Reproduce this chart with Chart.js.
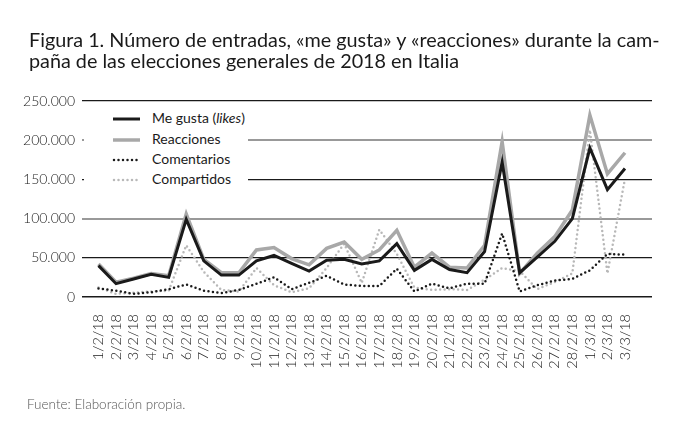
<!DOCTYPE html>
<html>
<head>
<meta charset="utf-8">
<script src="https://cdn.jsdelivr.net/npm/chart.js@4.4.0/dist/chart.umd.min.js"></script>
<style>
  body { margin: 0; background: #fff; font-family: Lato, sans-serif; }
  #page { position: relative; width: 691px; height: 430px; overflow: hidden; }
  #chart { position: absolute; left: 0; top: 0; }
  #title { position: absolute; left: 29px; top: 29px; font-size: 19.8px; line-height: 21px; color: #1a1a1a; font-weight: 400; }
  #legend { position: absolute; left: 84px; top: 108px; width: 164px; height: 82px; background: #fff; }
  .row { position: absolute; left: 0; height: 20px; font-size: 14px; color: #1a1a1a; }
  .row svg { position: absolute; left: 28px; top: 4px; }
  .row span { position: absolute; left: 68px; top: 0px; white-space: nowrap; }
  #source { position: absolute; left: 27px; top: 396px; font-size: 13.5px; color: #555; font-weight: 300; }
</style>
</head>
<body>
<div id="page">
  <canvas id="chart" width="691" height="430"></canvas>
  <div id="title">Figura 1. Número de entradas, «me gusta» y «reacciones» durante la cam-<br>paña de las elecciones generales de 2018 en Italia</div>
  <div id="legend">
    <div class="row" style="top:1px"><svg width="30" height="12"><line x1="1" y1="6" x2="28" y2="6" stroke="#1a1a1a" stroke-width="3"/></svg><span>Me gusta (<i>likes</i>)</span></div>
    <div class="row" style="top:22px"><svg width="30" height="12"><line x1="1" y1="6" x2="28" y2="6" stroke="#a8a8a8" stroke-width="3.5"/></svg><span>Reacciones</span></div>
    <div class="row" style="top:42px"><svg width="30" height="12"><line x1="2" y1="6" x2="28" y2="6" stroke="#1a1a1a" stroke-width="2.5" stroke-linecap="round" stroke-dasharray="0 4.5"/></svg><span>Comentarios</span></div>
    <div class="row" style="top:62px"><svg width="30" height="12"><line x1="2" y1="6" x2="28" y2="6" stroke="#b8b8b8" stroke-width="2.5" stroke-linecap="round" stroke-dasharray="0 4.5"/></svg><span>Compartidos</span></div>
  </div>
  <div id="source">Fuente: Elaboración propia.</div>
</div>
<script>
const days = ['1/2/18', '2/2/18', '3/2/18', '4/2/18', '5/2/18', '6/2/18', '7/2/18', '8/2/18',
  '9/2/18', '10/2/18', '11/2/18', '12/2/18', '13/2/18', '14/2/18', '15/2/18', '16/2/18',
  '17/2/18', '18/2/18', '19/2/18', '20/2/18', '21/2/18', '22/2/18', '23/2/18', '24/2/18',
  '25/2/18', '26/2/18', '27/2/18', '28/2/18', '1/3/18', '2/3/18', '3/3/18'];

const likes = [40000, 17000, 23000, 29000, 25000, 99000, 46000, 28000, 28000, 46000, 53000,
  43000, 33000, 47000, 48000, 42000, 46000, 68000, 34000, 48000, 35000, 31000, 58000,
  172000, 31000, 51000, 71000, 100000, 190000, 137000, 164000];

const reactions = [42000, 19000, 24000, 30000, 27000, 106000, 48000, 31000, 31000, 60000, 63000,
  49000, 41000, 62000, 70000, 48000, 60000, 85000, 38000, 56000, 38000, 37000, 66000,
  198000, 30000, 56000, 77000, 111000, 232000, 157000, 184000];

const comments = [11000, 8000, 4000, 6000, 10000, 16000, 8000, 5000, 9000, 17000, 25000,
  10000, 18000, 27000, 16000, 14000, 14000, 36000, 7000, 17000, 11000, 17000, 17000,
  81000, 7000, 15000, 21000, 23000, 34000, 55000, 54000];

const shares = [12000, 4000, 5500, 7000, 8000, 66000, 32000, 9000, 7000, 37000, 15000,
  6000, 11000, 37000, 68000, 18000, 86000, 55000, 12000, 9000, 10000, 9000, 22000,
  37000, 33000, 10000, 19000, 30000, 213000, 30000, 151000];

const yTicks = [0, 50000, 100000, 150000, 200000, 250000];

function points(values) {
  return values.map((v, i) => ({ x: i, y: v }));
}

function fmt(v) {
  return String(v).replace(/\B(?=(\d{3})+(?!\d))/g, '.');
}

const ctx = document.getElementById('chart').getContext('2d');
new Chart(ctx, {
  type: 'line',
  data: {
    datasets: [
      { label: 'Me gusta (likes)', data: points(likes), borderColor: '#1a1a1a', borderWidth: 3, order: 1 },
      { label: 'Reacciones', data: points(reactions), borderColor: '#a8a8a8', borderWidth: 3.5, order: 2 },
      { label: 'Comentarios', data: points(comments), borderColor: '#1a1a1a', borderWidth: 2.5,
        borderDash: [0, 4.5], borderCapStyle: 'round', order: 3 },
      { label: 'Compartidos', data: points(shares), borderColor: '#b8b8b8', borderWidth: 2.5,
        borderDash: [0, 4.5], borderCapStyle: 'round', order: 4 }
    ]
  },
  options: {
    responsive: false,
    animation: false,
    devicePixelRatio: 1,
    elements: { point: { radius: 0 }, line: { tension: 0 } },
    layout: { padding: { left: 0, right: 39, top: 101, bottom: 0 } },
    scales: {
      x: {
        type: 'linear',
        min: -0.94,
        max: 31.54,
        grid: { display: false },
        border: { display: false },
        afterBuildTicks: function(scale) {
          scale.ticks = days.map((d, i) => ({ value: i }));
        },
        afterFit: function(scale) { scale.height = 133; },
        ticks: {
          autoSkip: false,
          minRotation: 90,
          maxRotation: 90,
          padding: 9,
          color: '#1a1a1a',
          font: { family: 'Lato', size: 14.5, weight: 300 },
          callback: function(value) { return days[value]; }
        }
      },
      y: {
        min: 0,
        max: 250000,
        border: { display: false },
        afterBuildTicks: function(scale) {
          scale.ticks = yTicks.map(v => ({ value: v }));
        },
        afterFit: function(scale) { scale.width = 82; },
        grid: {
          drawTicks: false,
          color: function(c) {
            const v = c.tick.value;
            return (v === 100000 || v === 200000) ? '#999999' : '#1a1a1a';
          },
          lineWidth: function(c) {
            const v = c.tick.value;
            if (v === 100000 || v === 200000) return 2;
            return v === 0 ? 1.6 : 1.2;
          }
        },
        ticks: {
          padding: 7,
          color: '#1a1a1a',
          font: { family: 'Lato', size: 14, weight: 300 },
          callback: function(value) { return fmt(value); }
        }
      }
    },
    plugins: {
      legend: { display: false },
      tooltip: { enabled: false }
    }
  }
});
</script>
</body>
</html>
